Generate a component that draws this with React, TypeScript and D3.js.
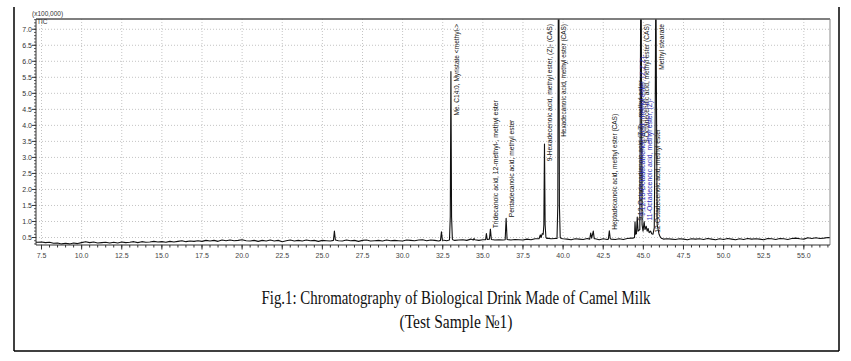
import React from 'react';
import * as d3 from 'd3';

// ---------- data ----------
const X_TICKS = [7.5, 10.0, 12.5, 15.0, 17.5, 20.0, 22.5, 25.0, 27.5, 30.0, 32.5, 35.0, 37.5, 40.0, 42.5, 45.0, 47.5, 50.0, 52.5, 55.0];
const Y_TICKS = [0.5, 1.0, 1.5, 2.0, 2.5, 3.0, 3.5, 4.0, 4.5, 5.0, 5.5, 6.0, 6.5, 7.0];

// baseline (TIC, x100,000) sampled every 0.25 min starting at 7.0 min
const BASE_START = 7.0;
const BASE_STEP = 0.25;
const baseline = [
  0.37, 0.35, 0.36, 0.34, 0.35, 0.32, 0.33, 0.30, 0.32, 0.30, 0.33, 0.31, 0.34, 0.37, 0.34, 0.36, 0.33, 0.34, 0.35, 0.33,
  0.35, 0.33, 0.36, 0.34, 0.35, 0.37, 0.34, 0.37, 0.35, 0.36, 0.38, 0.36, 0.37, 0.35, 0.38, 0.36, 0.38, 0.40, 0.37, 0.39,
  0.38, 0.40, 0.38, 0.41, 0.39, 0.41, 0.38, 0.42, 0.40, 0.42, 0.40, 0.41, 0.43, 0.40, 0.39, 0.41, 0.38, 0.41, 0.39, 0.42,
  0.39, 0.41, 0.37, 0.40, 0.42, 0.39, 0.41, 0.39, 0.42, 0.40, 0.41, 0.38, 0.41, 0.40, 0.39, 0.41, 0.40, 0.39, 0.42, 0.40,
  0.41, 0.38, 0.41, 0.42, 0.39, 0.40, 0.41, 0.39, 0.42, 0.40, 0.41, 0.40, 0.39, 0.42, 0.41, 0.40, 0.42, 0.43, 0.40, 0.42,
  0.41, 0.39, 0.42, 0.40, 0.43, 0.41, 0.42, 0.43, 0.41, 0.45, 0.42, 0.41, 0.43, 0.41, 0.44, 0.42, 0.43, 0.42, 0.44, 0.42,
  0.44, 0.43, 0.42, 0.45, 0.43, 0.46, 0.48, 0.45, 0.48, 0.46, 0.47, 0.44, 0.46, 0.45, 0.43, 0.46, 0.45, 0.44, 0.47, 0.45,
  0.46, 0.43, 0.46, 0.44, 0.45, 0.44, 0.46, 0.44, 0.47, 0.48, 0.52, 0.55, 0.56, 0.58, 0.55, 0.52, 0.48, 0.45, 0.46, 0.45,
  0.44, 0.46, 0.45, 0.43, 0.46, 0.45, 0.46, 0.44, 0.47, 0.45, 0.43, 0.46, 0.44, 0.47, 0.45, 0.43, 0.46, 0.44, 0.47, 0.45,
  0.46, 0.45, 0.43, 0.47, 0.46, 0.44, 0.47, 0.46, 0.44, 0.47, 0.48, 0.46, 0.45, 0.49, 0.47, 0.49, 0.47, 0.48, 0.50, 0.49,
  0.50,
];

// peaks: explicit [time (min), intensity] points
const peaks: number[][][] = [
  [[25.69, 0.41], [25.75, 0.70], [25.81, 0.42]],
  [[32.36, 0.41], [32.42, 0.68], [32.48, 0.41]],
  [[32.92, 0.42], [32.97, 1.15], [33.01, 5.68], [33.05, 1.15], [33.10, 0.45], [33.16, 0.42]],
  [[34.40, 0.42], [34.45, 0.47], [34.50, 0.43]],
  [[35.17, 0.43], [35.22, 0.62], [35.27, 0.44]],
  [[35.41, 0.45], [35.47, 0.76], [35.53, 0.44]],
  [[36.39, 0.43], [36.45, 1.10], [36.51, 0.44]],
  [[38.50, 0.46], [38.58, 0.58], [38.63, 0.50], [38.70, 0.62], [38.76, 0.60], [38.80, 0.90], [38.84, 3.42], [38.88, 0.90], [38.93, 0.50], [38.98, 0.47]],
  [[39.62, 0.47], [39.67, 1.50], [39.72, 12.0], [39.77, 1.50], [39.82, 0.50], [39.88, 0.47]],
  [[41.66, 0.45], [41.72, 0.64], [41.78, 0.48], [41.88, 0.70], [41.94, 0.46]],
  [[42.82, 0.45], [42.88, 0.71], [42.94, 0.46]],
  [[44.35, 0.48], [44.45, 0.50], [44.48, 0.99], [44.52, 0.60], [44.57, 0.62], [44.62, 1.14], [44.67, 0.70], [44.78, 0.75], [44.85, 10.0],
   [44.92, 0.90], [44.98, 0.70], [45.05, 1.00], [45.10, 0.75], [45.18, 0.85], [45.24, 0.70], [45.30, 0.78], [45.36, 0.65], [45.45, 0.70],
   [45.52, 0.62], [45.60, 0.60], [45.68, 0.80], [45.74, 4.50], [45.78, 9.0], [45.82, 4.50], [45.86, 0.90], [45.92, 0.75], [45.98, 0.60],
   [46.05, 0.52], [46.12, 0.48]],
];

const peakLabels = [
  { time: 33.01, text: 'Me. C14:0, Myristate <methyl->', color: '#111' },
  { time: 35.47, text: 'Tridecanoic acid, 12-methyl-, methyl ester', color: '#111' },
  { time: 36.45, text: 'Pentadecanoic acid, methyl ester', color: '#111' },
  { time: 38.84, text: '9-Hexadecenoic acid, methyl ester, (Z)- (CAS)', color: '#111' },
  { time: 39.72, text: 'Hexadecanoic acid, methyl ester (CAS)', color: '#111' },
  { time: 42.88, text: 'Heptadecanoic acid, methyl ester (CAS)', color: '#111' },
  { time: 44.48, text: '9,12-Octadecadienoic acid (Z,Z)-, methyl ester', color: '#111' },
  { time: 44.62, text: '9,12,15-Octadecatrienoic acid, methyl ester, (Z,Z,Z)-', color: '#2b2bb8' },
  { time: 44.85, text: '9-Octadecenoic acid, methyl ester (CAS)', color: '#111' },
  { time: 45.05, text: '11-Octadecenoic acid, methyl ester, (Z)-', color: '#2b2bb8' },
  { time: 45.52, text: '12-Octadecenoic acid, methyl ester', color: '#111' },
  { time: 45.78, text: 'Methyl stearate', color: '#111' },
];

const captionLines = ['Fig.1: Chromatography of Biological Drink Made of Camel Milk', '(Test Sample \u21161)'];
const yUnitLabel = '(x100,000)';
const yTraceLabel = 'TIC';

// ---------- component ----------
export default function App() {
  const W = 851;
  const H = 361;
  const plot = { left: 36, right: 830, top: 19, bottom: 245 };

  const x = d3.scaleLinear().domain([7.157, 56.63]).range([plot.left, plot.right]);
  const y = d3.scaleLinear().domain([0.266, 7.32]).range([plot.bottom, plot.top]);

  // merge baseline with peaks
  let pts: [number, number][] = baseline.map((v, i) => [BASE_START + i * BASE_STEP, v]);
  peaks.forEach((pk) => {
    const lo = pk[0][0];
    const hi = pk[pk.length - 1][0];
    pts = pts.filter((p) => p[0] < lo || p[0] > hi);
    pk.forEach((p) => pts.push([p[0], p[1]]));
  });
  pts.sort((a, b) => a[0] - b[0]);

  const line = d3
    .line<[number, number]>()
    .x((d) => x(d[0]))
    .y((d) => y(d[1]));

  const xMinor = d3.range(7.5, 56.6, 0.5);
  const yMinor = d3.range(0.3, 7.31, 0.1);

  const apexOf = (t: number) => {
    const near = pts.filter((p) => Math.abs(p[0] - t) < 0.025);
    return d3.max(near, (p) => p[1]) ?? 0.5;
  };

  const LABEL_TOP = plot.top + 5;
  const CHAR_W = 3.05;
  // caption is horizontally condensed in the reference
  const captionWidths = [389, 113];
  const captionX = 456;

  return (
    <svg
      width={W}
      height={H}
      viewBox={`0 0 ${W} ${H}`}
      style={{ position: 'absolute', left: 0, top: 0, display: 'block', background: '#fff' }}
      fontFamily="'Liberation Sans', Arial, sans-serif"
    >
      <rect x={0} y={0} width={W} height={H} fill="#fff" />
      <defs>
        <clipPath id="plotClip">
          <rect x={plot.left} y={plot.top} width={plot.right - plot.left} height={plot.bottom - plot.top} />
        </clipPath>
      </defs>

      {/* outer frame */}
      <line x1={14} y1={7} x2={14} y2={351} stroke="#000" strokeWidth={1.5} />
      <line x1={839} y1={7} x2={839} y2={351} stroke="#000" strokeWidth={1.5} />
      <line x1={14} y1={351} x2={839} y2={351} stroke="#000" strokeWidth={1.5} />

      {/* grid */}
      {X_TICKS.map((t) => (
        <line key={'gx' + t} x1={x(t)} x2={x(t)} y1={plot.top} y2={plot.bottom} stroke="#c4c4c4" strokeWidth={1} strokeDasharray="1,2" />
      ))}
      {Y_TICKS.map((t) => (
        <line key={'gy' + t} x1={plot.left} x2={plot.right} y1={y(t)} y2={y(t)} stroke="#c4c4c4" strokeWidth={1} strokeDasharray="1,2" />
      ))}

      {/* trace */}
      <path d={line(pts) ?? ''} fill="none" stroke="#111" strokeWidth={1.1} clipPath="url(#plotClip)" strokeLinejoin="round" />

      {/* plot frame */}
      <line x1={plot.left} x2={plot.right} y1={plot.top} y2={plot.top} stroke="#555" strokeWidth={1.5} />
      <line x1={plot.right} x2={plot.right} y1={plot.top} y2={plot.bottom} stroke="#888" strokeWidth={1} />
      <line x1={plot.left} x2={plot.left} y1={plot.top} y2={plot.bottom} stroke="#333" strokeWidth={1} />
      <line x1={plot.left} x2={plot.right} y1={plot.bottom} y2={plot.bottom} stroke="#333" strokeWidth={1} />

      {/* x ticks */}
      {xMinor.map((t) => (
        <line key={'xm' + t} x1={x(t)} x2={x(t)} y1={plot.bottom} y2={plot.bottom + 2.5} stroke="#333" strokeWidth={1} />
      ))}
      {X_TICKS.map((t) => (
        <g key={'xt' + t}>
          <line x1={x(t)} x2={x(t)} y1={plot.bottom} y2={plot.bottom + 4.5} stroke="#333" strokeWidth={1} />
          <text x={x(t)} y={plot.bottom + 13} textAnchor="middle" fontSize={7} fill="#444">
            {t.toFixed(1)}
          </text>
        </g>
      ))}

      {/* y ticks */}
      {yMinor.map((t) => (
        <line key={'ym' + t} x1={plot.left - 2} x2={plot.left} y1={y(t)} y2={y(t)} stroke="#333" strokeWidth={0.8} />
      ))}
      {Y_TICKS.map((t) => (
        <g key={'yt' + t}>
          <line x1={plot.left - 4} x2={plot.left} y1={y(t)} y2={y(t)} stroke="#333" strokeWidth={1} />
          <text x={plot.left - 4} y={y(t) + 2.5} textAnchor="end" fontSize={7} fill="#333">
            {t.toFixed(1)}
          </text>
        </g>
      ))}
      <text x={32} y={16} fontSize={6.5} fill="#333">{yUnitLabel}</text>
      <text x={37} y={24} fontSize={6.5} fill="#333">{yTraceLabel}</text>

      {/* peak labels */}
      {peakLabels.map((lb, i) => {
        const len = lb.text.length * CHAR_W;
        const apex = Math.min(apexOf(lb.time), y.domain()[1]);
        let bottom = y(apex) - 1;
        if (bottom - len < LABEL_TOP) bottom = LABEL_TOP + len;
        const lx = x(lb.time) + 5;
        return (
          <text
            key={'lb' + i}
            transform={`translate(${lx},${bottom}) rotate(-90)`}
            dy="0.35em"
            fontSize={8}
            textLength={len}
            lengthAdjust="spacingAndGlyphs"
            fill={lb.color}
          >
            {lb.text}
          </text>
        );
      })}

      {/* caption */}
      {captionLines.map((c, i) => (
        <text
          key={'cap' + i}
          x={captionX}
          y={304 + i * 24}
          textAnchor="middle"
          fontFamily="'Liberation Serif', 'Times New Roman', serif"
          fontSize={19}
          textLength={captionWidths[i]}
          lengthAdjust="spacingAndGlyphs"
          fill="#111"
        >
          {c}
        </text>
      ))}
    </svg>
  );
}
